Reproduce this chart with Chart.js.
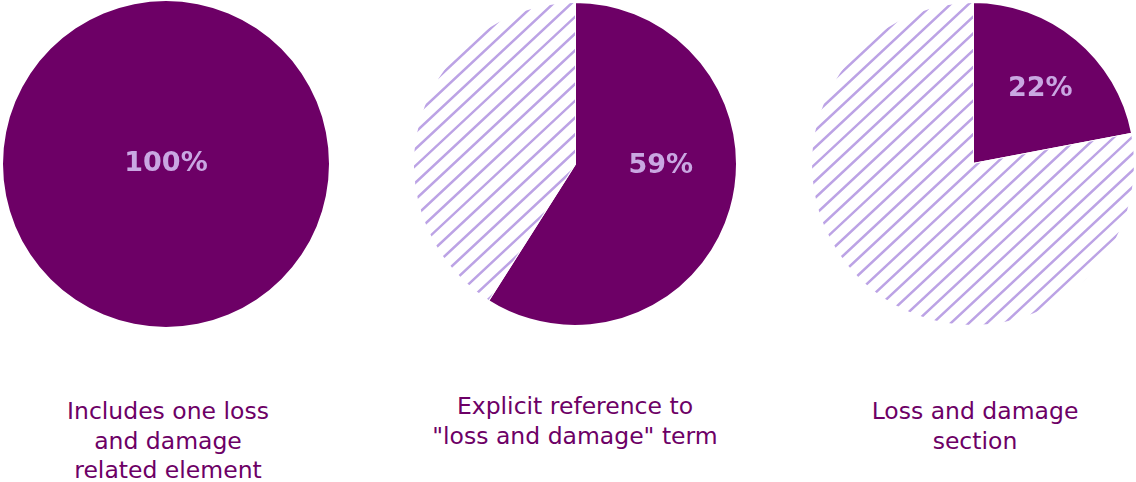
<!DOCTYPE html>
<html lang="en">
<head>
  <meta charset="UTF-8">
  <title>Loss and damage coverage</title>
  <script src="https://cdn.jsdelivr.net/npm/chart.js"></script>
  <style>
    html, body { margin: 0; padding: 0; background: #fff; overflow: hidden; }
    body { width: 1136px; height: 482px; position: relative; font-family: 'DejaVu Sans', sans-serif; }
    .pie { position: absolute; top: 1px; width: 326px; height: 326px; }
    .caption {
      position: absolute; width: 360px; text-align: center;
      color: #6d0066; font-size: 23.5px; line-height: 29.5px;
    }
  </style>
</head>
<body>
  <div class="pie" style="left:3px"><canvas id="pie0"></canvas></div>
  <div class="pie" style="left:412px"><canvas id="pie1"></canvas></div>
  <div class="pie" style="left:810px"><canvas id="pie2"></canvas></div>

  <div class="caption" id="cap0" style="left:-12px; top:397px"></div>
  <div class="caption" id="cap1" style="left:395px; top:392px"></div>
  <div class="caption" id="cap2" style="left:795px; top:397px"></div>

<script>
  const captions = [
    ["Includes one loss", "and damage", "related element"],
    ["Explicit reference to", "\"loss and damage\" term"],
    ["Loss and damage", "section"]
  ];
  const shares = [100, 59, 22];

  // where the % label sits: angle from 12 o'clock (deg) and fraction of radius
  const labelSpots = [
    { angle: 0, dist: 0 },
    { angle: 91, dist: 0.53 },
    { angle: 42, dist: 0.62 }
  ];

  const purple = '#6d0066';
  const lavender = '#c9a7e2';
  const stripe = '#bca3e5';

  // stripes over the "not covered" slice, clipped to the arc
  const hatchFill = {
    id: 'hatchFill',
    afterDatasetsDraw(chart) {
      const arc = chart.getDatasetMeta(0).data[1];
      if (!arc || arc.circumference === 0) return;
      const { x, y, outerRadius, startAngle, endAngle } = arc.getProps(['x', 'y', 'outerRadius', 'startAngle', 'endAngle']);
      const ctx = chart.ctx;
      ctx.save();
      ctx.beginPath();
      ctx.moveTo(x, y);
      ctx.arc(x, y, outerRadius - 1, startAngle, endAngle);
      ctx.closePath();
      ctx.clip();
      ctx.strokeStyle = stripe;
      ctx.lineWidth = 2.5;
      const gapX = 18, gapY = 16.8;
      const w = chart.width, h = chart.height;
      const run = h * gapX / gapY;
      ctx.beginPath();
      for (let k = 0; k <= w + run; k += gapX) {
        ctx.moveTo(k, 0);
        ctx.lineTo(k - run, h);
      }
      ctx.stroke();
      ctx.restore();
    }
  };

  const pctLabel = {
    id: 'pctLabel',
    afterDatasetsDraw(chart, args, opts) {
      const arc = chart.getDatasetMeta(0).data[0];
      const r = arc.outerRadius * opts.dist;
      const a = opts.angle * Math.PI / 180;
      const x = arc.x + Math.sin(a) * r;
      const y = arc.y - Math.cos(a) * r;
      const ctx = chart.ctx;
      ctx.save();
      ctx.fillStyle = lavender;
      ctx.font = 'bold 27px "DejaVu Sans", sans-serif';
      ctx.textAlign = 'center';
      ctx.textBaseline = 'middle';
      ctx.fillText(chart.data.datasets[0].data[0] + '%', x, y);
      ctx.restore();
    }
  };

  shares.forEach((v, i) => {
    document.getElementById('cap' + i).innerHTML = captions[i].join('<br>');
    const ctx = document.getElementById('pie' + i).getContext('2d');
    new Chart(ctx, {
      type: 'pie',
      data: {
        labels: ['Yes', 'No'],
        datasets: [{
          data: [v, 100 - v],
          backgroundColor: [purple, '#ffffff'],
          borderColor: '#fff',
          borderWidth: v === 100 ? 0 : 2
        }]
      },
      options: {
        responsive: true,
        maintainAspectRatio: false,
        animation: false,
        layout: { padding: 0 },
        plugins: {
          legend: { display: false },
          tooltip: { enabled: false },
          pctLabel: labelSpots[i]
        }
      },
      plugins: [hatchFill, pctLabel]
    });
  });
</script>
</body>
</html>
